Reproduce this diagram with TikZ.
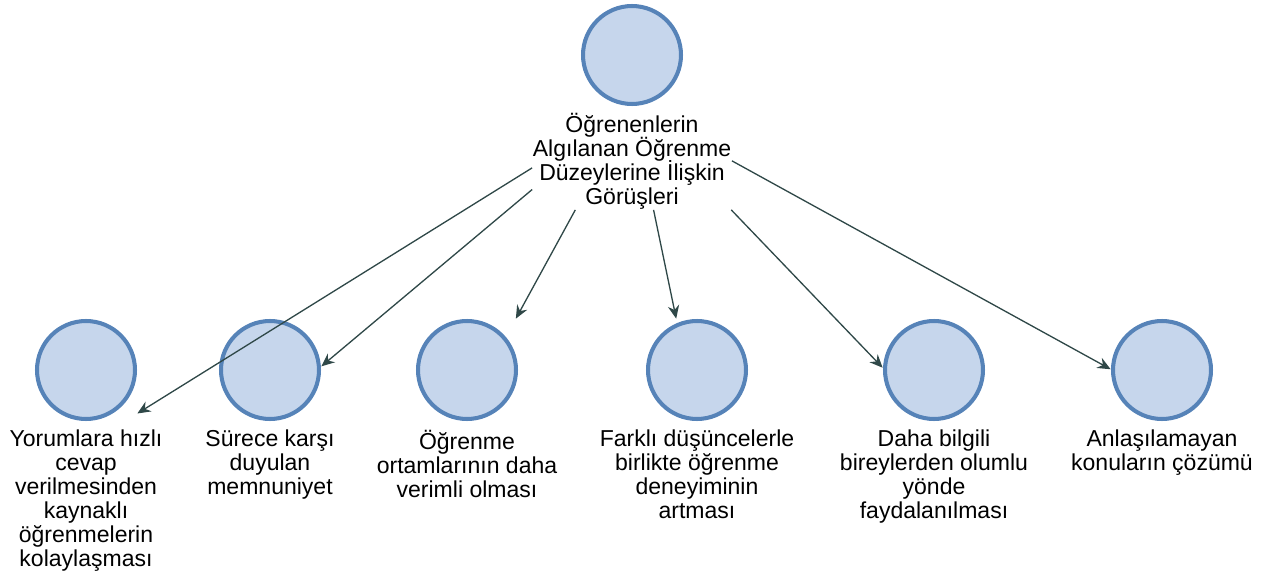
\documentclass[tikz,border=0pt]{standalone}
\usepackage{fontspec}
\setmainfont{Liberation Sans}
\usetikzlibrary{arrows.meta,positioning,fit,calc}
\definecolor{ringblue}{RGB}{86,131,184}
\definecolor{fillblue}{RGB}{198,214,236}
\definecolor{arrowgray}{RGB}{47,72,72}
\setlength{\lineskiplimit}{-10pt}

\begin{document}
\begin{tikzpicture}[x=0.02cm,y=-0.02cm,line join=round,
  theme/.style={circle,draw=ringblue,fill=fillblue,line width=2.3pt,minimum size=1.96cm,inner sep=0pt},
  lbl/.style={align=center,inner sep=0pt,font=\fontsize{13.1}{13.6}\selectfont},
  grp/.style={inner sep=0pt},
  arr/.style={-{Stealth[length=7.5pt,width=6.5pt,inset=2.5pt]},draw=arrowgray,line width=0.75pt}]
  \useasboundingbox (0,0) rectangle (1279,581);
  % root theme
  \node[theme] (root) at (632,55) {};
  \node[lbl,below=4pt of root] (rootlbl) {Öğrenenlerin\\Algılanan Öğrenme\\Düzeylerine İlişkin\\Görüşleri};
  \node[grp,fit=(rootlbl.south west)(rootlbl.south east)($(rootlbl.south)!2!(root.south)$)] (hub) {};
  % sub themes
  \node[theme] (c1) at (86,370) {};
  \node[theme] (c2) at (270,370) {};
  \node[theme] (c3) at (467,370) {};
  \node[theme] (c4) at (697,370) {};
  \node[theme] (c5) at (934,370) {};
  \node[theme] (c6) at (1162,370) {};
  \node[lbl,below=5pt of c1] (l1) {Yorumlara hızlı\\cevap\\verilmesinden\\kaynaklı\\öğrenmelerin\\kolaylaşması};
  \node[lbl,below=5pt of c2] (l2) {Sürece karşı\\duyulan\\memnuniyet};
  \node[lbl,below=5pt of c3] (l3) {Öğrenme\\ortamlarının daha\\verimli olması};
  \node[lbl,below=5pt of c4] (l4) {Farklı düşüncelerle\\birlikte öğrenme\\deneyiminin\\artması};
  \node[lbl,below=5pt of c5] (l5) {Daha bilgili\\bireylerden olumlu\\yönde\\faydalanılması};
  \node[lbl,below=5pt of c6] (l6) {Anlaşılamayan\\konuların çözümü};
  % groups used as arrow targets
  \foreach \i in {1,...,6}
    \node[grp,fit=(c\i)(l\i.south)] (g\i) {};
  % links
  \foreach \i in {1,...,6}
    \draw[arr] (hub) -- (g\i);
\end{tikzpicture}
\end{document}
